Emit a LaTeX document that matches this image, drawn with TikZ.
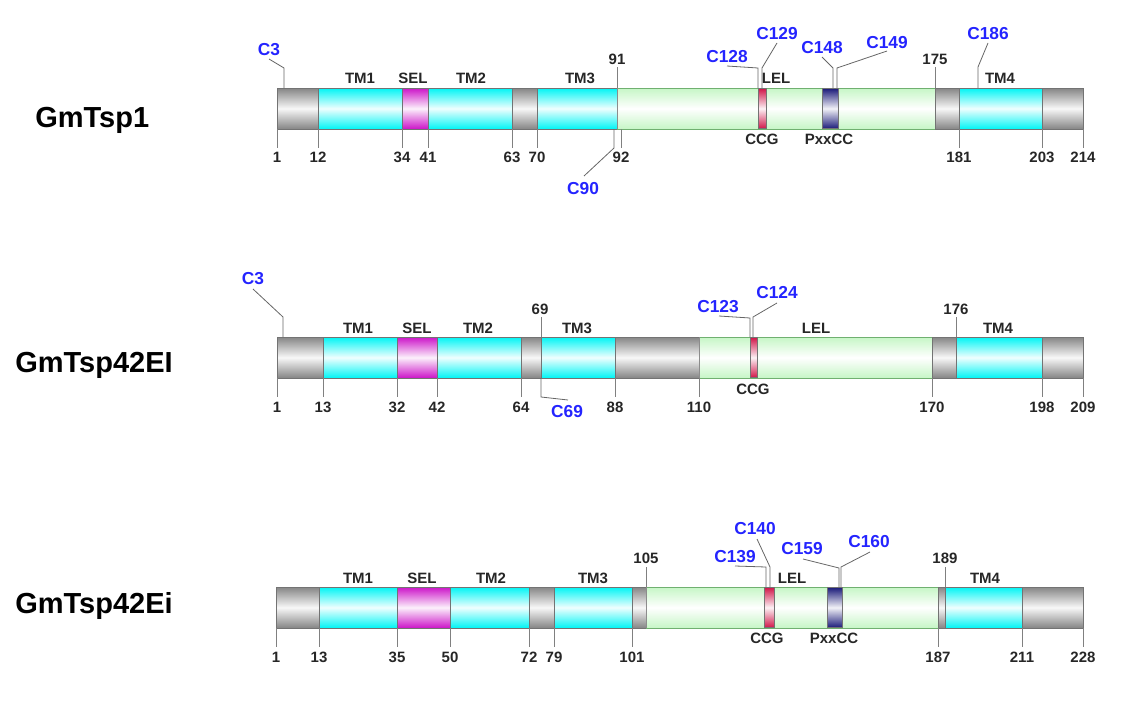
\documentclass[tikz,border=0pt]{standalone}
\usepackage{fontspec}
\setmainfont{Liberation Sans}
\definecolor{sgray}{HTML}{858585}
\definecolor{scyan}{HTML}{00F5F5}
\definecolor{smag}{HTML}{CC14C8}
\definecolor{sgreen}{HTML}{C6F6C6}
\definecolor{sred}{HTML}{D0184A}
\definecolor{snavy}{HTML}{1C1C7A}
\definecolor{cysblue}{HTML}{2424FF}
\definecolor{gborder}{HTML}{70B070}
\newcommand\bseg[5]{\shade[top color=#5, bottom color=#5, middle color=#5!6!white, draw=black!55, line width=0.5pt] (#1,#3) rectangle (#2,#4);}
\newcommand\gseg[4]{\shade[top color=sgreen, bottom color=sgreen, middle color=white, draw=gborder, line width=0.6pt] (#1,#3) rectangle (#2,#4);
  \draw[black!45, line width=0.5pt] (#1,#3) -- (#1,#4) (#2,#3) -- (#2,#4);}
\begin{document}
\begin{tikzpicture}[x=0.75pt,y=-0.75pt,
  num/.style={font=\bfseries\fontsize{11.25}{13}\selectfont, anchor=base, inner sep=0pt, text=black!85},
  cys/.style={font=\bfseries\fontsize{13}{15}\selectfont, text=cysblue, anchor=base, inner sep=0pt},
  nm/.style={font=\bfseries\fontsize{21.75}{24}\selectfont, anchor=base west, inner sep=0pt},
  tick/.style={draw=black!50, line width=0.6pt},
  lead/.style={draw=black!60, line width=0.6pt}]
\useasboundingbox (0,0) rectangle (1147,718);

% ---------------- Row 1: GmTsp1 ----------------
\node[nm] (n1) at (35,127) {GmTsp1};
\bseg{277}{318}{88}{129}{sgray}
\bseg{318}{402}{88}{129}{scyan}
\bseg{402}{428}{88}{129}{smag}
\bseg{428}{512}{88}{129}{scyan}
\bseg{512}{537}{88}{129}{sgray}
\bseg{537}{617}{88}{129}{scyan}
\gseg{617}{935}{88}{129}
\bseg{758}{766}{88.5}{128.5}{sred}
\bseg{822}{838}{88.5}{128.5}{snavy}
\bseg{935}{959}{88}{129}{sgray}
\bseg{959}{1042}{88}{129}{scyan}
\bseg{1042}{1083}{88}{129}{sgray}
\foreach \x/\t in {277/1,318/12,402/34,428/41,512/63,537/70,621/92,959/181,1042/203,1083/214}{
  \draw[tick] (\x,129) -- (\x,148);
  \node[num] (r1b\t) at (\x,162) {\t};}
\foreach \x/\t in {360/TM1,413/SEL,471/TM2,580/TM3,776/LEL,1000/TM4}{
  \node[num] (r1r\t) at (\x,83) {\t};}
\node[num] (r1t91) at (617,64) {91};
\node[num] (r1t175) at (935,64) {175};
\draw[tick] (617,67) -- (617,88);
\draw[tick] (935,67) -- (935,88);
\node[num] (r1ccg) at (762,144) {CCG};
\node[num] (r1pxx) at (829,144) {PxxCC};
\node[cys] (r1c3) at (269,55) {C3};
\node[cys] (r1c90) at (583,194) {C90};
\node[cys] (r1c128) at (727,62) {C128};
\node[cys] (r1c129) at (777,39) {C129};
\node[cys] (r1c148) at (822,53) {C148};
\node[cys] (r1c149) at (887,48) {C149};
\node[cys] (r1c186) at (988,39) {C186};
\draw[lead] (269,59) -- (284,68) -- (284,88);
\draw[lead] (584,176) -- (614,148) -- (614,129);
\draw[lead] (727,66) -- (758,68) -- (758,88);
\draw[lead] (777,43) -- (762,68) -- (762,88);
\draw[lead] (822,57) -- (833,68) -- (833,88);
\draw[lead] (887,51) -- (837,68) -- (837,88);
\draw[lead] (988,43) -- (978,67) -- (978,88);

% ---------------- Row 2: GmTsp42EI ----------------
\node[nm] (n2) at (15,372.5) {GmTsp42EI};
\bseg{277}{323}{337}{378}{sgray}
\bseg{323}{397}{337}{378}{scyan}
\bseg{397}{437}{337}{378}{smag}
\bseg{437}{521}{337}{378}{scyan}
\bseg{521}{541}{337}{378}{sgray}
\bseg{541}{615}{337}{378}{scyan}
\bseg{615}{699}{337}{378}{sgray}
\gseg{699}{932}{337}{378}
\bseg{750}{757}{337.5}{377.5}{sred}
\bseg{932}{956}{337}{378}{sgray}
\bseg{956}{1042}{337}{378}{scyan}
\bseg{1042}{1083}{337}{378}{sgray}
\foreach \x/\t in {277/1,323/13,397/32,437/42,521/64,615/88,699/110,932/170,1042/198,1083/209}{
  \draw[tick] (\x,378) -- (\x,397);
  \node[num] (r2b\t) at (\x,412) {\t};}
\foreach \x/\t in {358/TM1,417/SEL,478/TM2,577/TM3,816/LEL,998/TM4}{
  \node[num] (r2r\t) at (\x,333) {\t};}
\node[num] (r2t69) at (540,314) {69};
\node[num] (r2t176) at (956,314) {176};
\draw[tick] (541,317) -- (541,337);
\draw[tick] (956,317) -- (956,337);
\node[num] (r2ccg) at (753,394) {CCG};
\node[cys] (r2c3) at (253,284) {C3};
\node[cys] (r2c69) at (567,417) {C69};
\node[cys] (r2c123) at (718,312) {C123};
\node[cys] (r2c124) at (777,298) {C124};
\draw[lead] (253,289) -- (283,317) -- (283,337);
\draw[lead] (541,378) -- (541,397) -- (568,400);
\draw[lead] (719,316) -- (750,318) -- (750,337);
\draw[lead] (777,303) -- (753,317) -- (753,337);

% ---------------- Row 3: GmTsp42Ei ----------------
\node[nm] (n3) at (15,613) {GmTsp42Ei};
\bseg{276}{319}{587}{628}{sgray}
\bseg{319}{397}{587}{628}{scyan}
\bseg{397}{450}{587}{628}{smag}
\bseg{450}{529}{587}{628}{scyan}
\bseg{529}{554}{587}{628}{sgray}
\bseg{554}{632}{587}{628}{scyan}
\bseg{632}{646}{587}{628}{sgray}
\gseg{646}{938}{587}{628}
\bseg{764}{774}{587.5}{627.5}{sred}
\bseg{827}{842}{587.5}{627.5}{snavy}
\bseg{938}{945}{587}{628}{sgray}
\bseg{945}{1022}{587}{628}{scyan}
\bseg{1022}{1083}{587}{628}{sgray}
\foreach \x/\t in {276/1,319/13,397/35,450/50,529/72,554/79,632/101,938/187,1022/211,1083/228}{
  \draw[tick] (\x,628) -- (\x,647);
  \node[num] (r3b\t) at (\x,662) {\t};}
\foreach \x/\t in {358/TM1,422/SEL,491/TM2,593/TM3,792/LEL,985/TM4}{
  \node[num] (r3r\t) at (\x,583) {\t};}
\node[num] (r3t105) at (646,563) {105};
\node[num] (r3t189) at (945,563) {189};
\draw[tick] (646,567) -- (646,587);
\draw[tick] (945,567) -- (945,587);
\node[num] (r3ccg) at (767,643) {CCG};
\node[num] (r3pxx) at (834,643) {PxxCC};
\node[cys] (r3c139) at (735,562) {C139};
\node[cys] (r3c140) at (755,534) {C140};
\node[cys] (r3c159) at (802,554) {C159};
\node[cys] (r3c160) at (869,547) {C160};
\draw[lead] (735,566) -- (766,567) -- (766,587);
\draw[lead] (757,539) -- (770,567) -- (770,587);
\draw[lead] (803,559) -- (839,568) -- (839,587);
\draw[lead] (870,552) -- (841,567) -- (841,587);
\end{tikzpicture}
\end{document}
